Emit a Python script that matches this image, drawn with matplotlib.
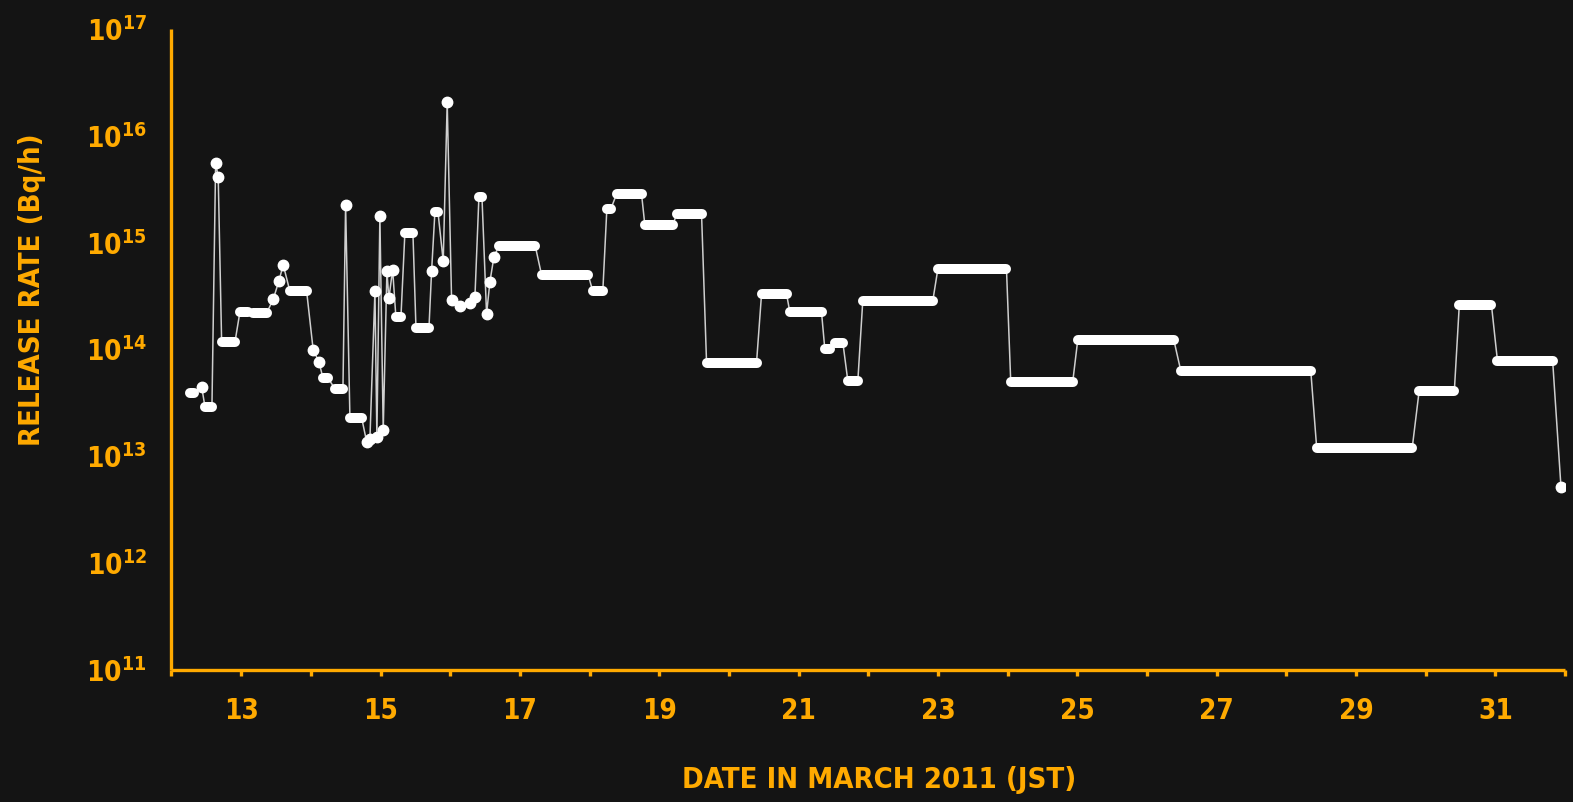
import matplotlib
matplotlib.use("Agg")
import matplotlib.pyplot as plt
from matplotlib.ticker import FixedLocator, FuncFormatter, NullLocator
import numpy as np

# Release rate history: each entry is a constant-rate interval (start day, end day, Bq/h).
# Intervals whose start equals their end are single hourly estimates.
seg_start = [12.265, 12.433, 12.481, 12.634, 12.671, 12.720, 12.983, 13.169, 13.461, 13.543,
             13.604, 13.700, 14.034, 14.116, 14.174, 14.346, 14.499, 14.561, 14.801, 14.848,
             14.920, 14.948, 14.991, 15.039, 15.092, 15.120, 15.174, 15.221, 15.350, 15.509,
             15.733, 15.781, 15.900, 15.957, 16.020, 16.139, 16.283, 16.355, 16.412, 16.522,
             16.570, 16.628, 16.703, 17.311, 18.047, 18.248, 18.387, 18.793, 19.248, 19.679,
             20.468, 20.875, 21.376, 21.520, 21.706, 21.921, 22.998, 24.044, 25.006, 26.485,
             28.435, 29.905, 30.481, 31.029, 31.940]
seg_end = [12.323, 12.433, 12.581, 12.634, 12.671, 12.911, 13.098, 13.366, 13.461, 13.543,
           13.604, 13.940, 14.034, 14.116, 14.245, 14.461, 14.499, 14.729, 14.801, 14.848,
           14.920, 14.948, 14.991, 15.039, 15.092, 15.120, 15.174, 15.293, 15.465, 15.695,
           15.733, 15.824, 15.900, 15.957, 16.020, 16.139, 16.283, 16.355, 16.456, 16.522,
           16.570, 16.628, 17.219, 17.980, 18.190, 18.305, 18.746, 19.199, 19.607, 20.396,
           20.827, 21.329, 21.450, 21.635, 21.850, 22.926, 23.983, 24.934, 26.384, 28.350,
           29.805, 30.410, 30.943, 31.821, 31.940]
release_rate = [3.9e13, 4.5e13, 2.9e13, 5.6e15, 4.1e15, 1.17e14, 2.26e14, 2.19e14, 2.96e14, 4.4e14,
                6.2e14, 3.5e14, 9.9e13, 7.7e13, 5.4e13, 4.3e13, 2.26e15, 2.3e13, 1.37e13, 1.46e13,
                3.5e14, 1.53e13, 1.78e15, 1.77e13, 5.4e14, 3.0e14, 5.6e14, 2.0e14, 1.24e15, 1.58e14,
                5.4e14, 1.95e15, 6.7e14, 2.05e16, 2.9e14, 2.56e14, 2.7e14, 3.1e14, 2.67e15, 2.15e14,
                4.3e14, 7.4e14, 9.4e14, 5.0e14, 3.5e14, 2.06e15, 2.85e15, 1.47e15, 1.86e15, 7.5e13,
                3.3e14, 2.22e14, 1.01e14, 1.16e14, 5.1e13, 2.87e14, 5.65e14, 5.0e13, 1.23e14, 6.3e13,
                1.19e13, 4.1e13, 2.6e14, 7.8e13, 5.2e12]

day_ticks = list(range(12, 33))
day_labels = [str(d) if d % 2 == 1 else "" for d in day_ticks]
decades = list(range(11, 18))

ORANGE = "#FFAA00"
BG = "#141414"

plt.rcParams["font.family"] = ["DejaVu Sans"]
plt.rcParams["font.stretch"] = "condensed"
plt.rcParams["mathtext.fontset"] = "dejavusans"

fig = plt.figure(figsize=(15.73, 8.02), dpi=100, facecolor=BG)
ax = fig.add_axes([0.109, 0.1646, 0.886, 0.7993], facecolor=BG)

# thin connector through every interval end point, in time order
xs, ys = [], []
for s, e, v in zip(seg_start, seg_end, release_rate):
    xs += [s, e]
    ys += [v, v]
ax.plot(xs, ys, color="#cfcfcf", lw=1.1, zorder=2, solid_joinstyle="round")

# thick rounded bars for intervals, dots for single estimates
starts = np.array(seg_start)
ends = np.array(seg_end)
vals = np.array(release_rate)
longer = ends > starts
hl = ax.hlines(vals[longer], starts[longer], ends[longer], colors="white", lw=7.2, zorder=3)
hl.set_capstyle("round")
ax.plot(starts[~longer], vals[~longer], "o", color="white", ms=7.5, mec="white", zorder=3)

ax.set_yscale("log")
ax.set_ylim(1e11, 1e17)
ax.set_xlim(12, 32)

for side in ("top", "right"):
    ax.spines[side].set_visible(False)
for side in ("left", "bottom"):
    ax.spines[side].set_color(ORANGE)
    ax.spines[side].set_linewidth(2.4)
    ax.spines[side].set_capstyle("butt")

ax.xaxis.set_major_locator(FixedLocator(day_ticks))
ax.set_xticklabels(day_labels)
ax.tick_params(axis="x", direction="out", length=4.5, width=2.4, color=ORANGE,
               labelcolor=ORANGE, labelsize=20, pad=15)
for lab in ax.get_xticklabels():
    lab.set_fontweight("bold")
    lab.set_fontstretch("condensed")

ax.yaxis.set_major_locator(FixedLocator([10.0 ** d for d in decades]))
ax.yaxis.set_minor_locator(NullLocator())
ax.yaxis.set_major_formatter(FuncFormatter(lambda v, p: r"$\mathbf{10^{%d}}$" % round(np.log10(v))))
ax.tick_params(axis="y", length=0, labelcolor=ORANGE, labelsize=20, pad=18)

ax.set_xlabel("DATE IN MARCH 2011 (JST)", color=ORANGE, fontsize=21, fontweight="bold",
              fontstretch="condensed", va="center")
ax.xaxis.set_label_coords(0.5075, -0.172)
ax.set_ylabel("RELEASE RATE (Bq/h)", color=ORANGE, fontsize=21, fontweight="bold",
              fontstretch="condensed", va="center")
ax.yaxis.set_label_coords(-0.1, 0.594)

fig.savefig("out.png", dpi=100, facecolor=BG)
